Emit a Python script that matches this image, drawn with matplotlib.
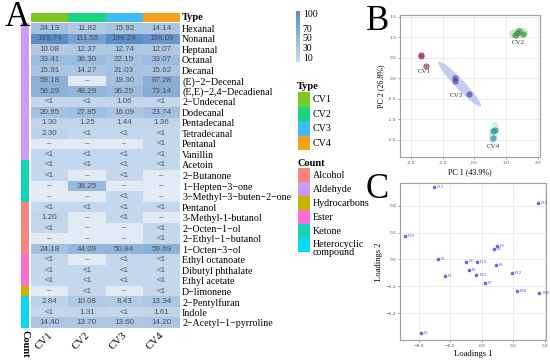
import numpy as np
import matplotlib
matplotlib.use("Agg")
import matplotlib.pyplot as plt
from matplotlib import colors as mcolors
from matplotlib.patches import Rectangle, Ellipse
from matplotlib.cm import ScalarMappable

SERIF = "Liberation Serif"
SANS = "Liberation Sans"

# heatmap data (A)
compounds = ["Hexanal", "Nonanal", "Heptanal", "Octanal", "Decanal",
             "(E)−2−Decenal", "(E,E)−2,4−Decadienal", "2−Undecenal",
             "Dodecanal", "Pentadecanal", "Tetradecanal", "Pentanal",
             "Vanillin", "Acetoin", "2−Butanone", "1−Hepten−3−one",
             "3−Methyl−3−buten−2−one", "Pentanol", "3-Methyl-1-butanol",
             "2−Octen−1−ol", "2−Ethyl−1−butanol", "1−Octen−3−ol",
             "Ethyl octanoate", "Dibutyl phthalate", "Ethyl acetate",
             "D−limonene", "2−Pentylfuran", "Indole", "2−Acetyl−1−pyrroline"]
classes = ["Aldehyde"] * 13 + ["Ketone"] * 4 + ["Alcohol"] * 5 + \
          ["Ester"] * 3 + ["Hydrocarbons"] + ["Heterocyclic compound"] * 3
cv1 = ["24.13", "199.74", "10.08", "33.41", "15.91", "59.18", "58.29", "<1",
       "20.95", "1.30", "2.30", "–", "<1", "<1", "<1", "–", "–", "<1", "1.20",
       "<1", "–", "24.18", "<1", "<1", "<1", "–", "2.84", "<1", "14.40"]
cv2 = ["11.82", "111.55", "12.37", "36.30", "14.27", "–", "48.29", "<1",
       "27.85", "1.25", "<1", "–", "<1", "<1", "–", "38.25", "–", "<1", "–",
       "–", "–", "44.09", "–", "<1", "<1", "<1", "10.08", "1.31", "13.70"]
cv3 = ["15.92", "199.24", "12.74", "22.19", "21.03", "19.30", "36.29", "1.06",
       "16.09", "1.44", "<1", "–", "<1", "<1", "<1", "–", "<1", "<1", "<1",
       "–", "–", "50.84", "<1", "<1", "<1", "–", "8.43", "<1", "13.60"]
cv4 = ["14.14", "158.09", "12.07", "33.07", "15.62", "67.28", "73.14", "<1",
       "23.74", "1.36", "<1", "<1", "<1", "<1", "–", "–", "–", "<1", "–",
       "<1", "<1", "59.69", "<1", "<1", "<1", "<1", "13.34", "1.61", "14.20"]
cultivars = ["CV1", "CV2", "CV3", "CV4"]
type_colors = ["#7DC723", "#17D67F", "#3CBDF6", "#F7A21C"]
count_names = ["Alcohol", "Aldehyde", "Hydrocarbons", "Ester", "Ketone",
               "Heterocyclic compound"]
count_colors = ["#F8867E", "#CB9BFB", "#C8B400", "#FA6FD0", "#14D6B4", "#08D8F4"]
cbar_ticks = [10, 30, 50, 70, 100]

# PCA scores (B)
pc_group = ["CV1", "CV1", "CV1", "CV2", "CV2", "CV2", "CV2",
            "CV3", "CV3", "CV3", "CV4", "CV4", "CV4"]
pc1 = [-1.69, -1.67, -1.52, 1.28, 1.34, 1.42, 1.55, -0.61, -0.61, -0.16, 0.60, 0.65, 0.58]
pc2 = [0.56, 0.53, 0.30, 1.06, 1.11, 1.14, 1.08, 0.015, -0.06, -0.38, -1.28, -1.26, -1.45]
group_colors = {"CV1": "#A33D5E", "CV2": "#3E8F45", "CV3": "#4753A6", "CV4": "#2B98A3"}
ellipse_fill = {"CV1": "#F2C6CF", "CV2": "#9FD69F", "CV3": "#A9B3EA", "CV4": "#9EDCDD"}
ellipse_alpha = {"CV1": 0.0, "CV2": 0.55, "CV3": 0.65, "CV4": 0.5}

# loadings (C)
load_names = ["F13", "F19", "F20", "F9", "F4", "F1", "F8", "F10", "F5",
              "F6", "F12", "F21", "F3", "F7", "F28", "F26", "F2"]
load1 = [-0.301, 0.355, -0.489, 0.097, 0.076, -0.276, -0.102, -0.032, 0.091,
         -0.080, 0.190, -0.034, -0.235, 0.021, 0.222, 0.366, -0.387]
load2 = [0.539, 0.424, 0.173, 0.104, 0.079, 0.005, -0.015, -0.020, -0.040,
         -0.077, -0.104, -0.114, -0.126, -0.178, -0.235, -0.247, -0.548]


def to_num(s):
    if s == "–":
        return np.nan
    if s == "<1":
        return 0.5
    return float(s)


W, H = 550, 362
fig = plt.figure(figsize=(W / 100, H / 100), dpi=100)


def px_axes(x0, y0, x1, y1):
    return fig.add_axes([x0 / W, 1 - y1 / H, (x1 - x0) / W, (y1 - y0) / H])


cmap = mcolors.LinearSegmentedColormap.from_list("bl", ["#C9DBEE", "#5A8EC8"])
cmap.set_bad("#E1EBF5")
norm = mcolors.PowerNorm(0.5, vmin=0, vmax=200)

labels = np.array([cv1, cv2, cv3, cv4]).T
values = np.vectorize(to_num)(labels)
nrow = len(compounds)

# ---- A: heatmap
ax = px_axes(31, 23, 180, 328)
ax.pcolormesh(np.ma.masked_invalid(values), cmap=cmap, norm=norm)
for i in range(nrow):
    for j in range(4):
        ax.text(j + 0.5, i + 0.5, labels[i, j], ha="center", va="center",
                fontsize=5.8, color="#505050", family=SANS)
ax.set_xlim(0, 4)
ax.set_ylim(nrow, 0)
ax.set_yticks(np.arange(nrow) + 0.5)
ax.set_yticklabels(compounds, family=SERIF, fontsize=7.2)
ax.yaxis.tick_right()
ax.set_xticks(np.arange(4) + 0.62)
ax.set_xticklabels(cultivars, family=SERIF, fontsize=7.8, rotation=45,
                   ha="right", va="top")
ax.tick_params(length=0, pad=1.5)
for s in ax.spines.values():
    s.set_visible(False)

tax = px_axes(31, 13, 180, 22)
tax.pcolormesh(np.arange(4).reshape(1, 4), cmap=mcolors.ListedColormap(type_colors))
tax.set_xticks([])
tax.set_yticks([])
for s in tax.spines.values():
    s.set_visible(False)
tax.text(1.01, 0.5, "Type", transform=tax.transAxes, family=SERIF, fontsize=7.5,
         fontweight="bold", va="center", ha="left")

cax_count = px_axes(21, 23, 29, 328)
cls_idx = np.array([count_names.index(c) for c in classes]).reshape(-1, 1)
cax_count.pcolormesh(cls_idx, cmap=mcolors.ListedColormap(count_colors),
                     vmin=-0.5, vmax=len(count_names) - 0.5)
cax_count.set_ylim(nrow, 0)
cax_count.set_xticks([])
cax_count.set_yticks([])
for s in cax_count.spines.values():
    s.set_visible(False)
cax_count.text(0.5, -0.006, "Count", transform=cax_count.transAxes, family=SERIF,
               fontsize=7.5, fontweight="bold", rotation=-90, ha="center", va="top")

fig.text(5 / W, 1 - 17 / H, "A", family=SERIF, fontsize=25, va="center", ha="left")

# colour bar
cb_ax = px_axes(296, 11, 300, 62)
cb = fig.colorbar(ScalarMappable(mcolors.Normalize(0, 105), cmap), cax=cb_ax,
                  ticks=cbar_ticks)
cb.outline.set_visible(False)
cb_ax.tick_params(length=0, pad=2, labelsize=7)
for t in cb_ax.get_yticklabels():
    t.set_family(SERIF)

# legends
lax = px_axes(290, 75, 385, 262)
lax.set_xlim(290, 385)
lax.set_ylim(262, 75)
lax.axis("off")
lax.text(297, 86, "Type", family=SERIF, fontsize=7.5, fontweight="bold", va="center")
for k, (nm, c) in enumerate(zip(cultivars, type_colors)):
    y0 = 92 + k * 14.5
    lax.add_patch(Rectangle((298, y0), 12, 14.5, color=c, lw=0))
    lax.text(313, y0 + 7.5, nm, family=SERIF, fontsize=7.2, va="center")
lax.text(297, 163, "Count", family=SERIF, fontsize=7.5, fontweight="bold", va="center")
for k, (nm, c) in enumerate(zip(count_names, count_colors)):
    y0 = 168 + k * 14
    lax.add_patch(Rectangle((298, y0), 12, 14, color=c, lw=0))
    txt = nm.replace(" ", "\n") if " " in nm else nm
    lax.text(313, y0 + 7.5 + (3 if "\n" in txt else 0), txt, family=SERIF,
             fontsize=7.2, va="center", linespacing=0.95)


def style_panel(a):
    a.grid(True, color="#E6E6E6", lw=0.5)
    a.set_axisbelow(True)
    for s in a.spines.values():
        s.set_color("#A0A0A0")
        s.set_linewidth(0.8)
    a.tick_params(labelsize=3.2, length=1.5, width=0.4, pad=1.2, colors="#555555")


# ---- B: PCA score plot
bx = px_axes(400, 15, 540, 157)
pc1 = np.array(pc1)
pc2 = np.array(pc2)
grp = np.array(pc_group)
label_off = {"CV1": (2, -6), "CV2": (0, -8), "CV3": (-3, -1.5), "CV4": (0, -9)}
for g in cultivars:
    m = grp == g
    x, y = pc1[m], pc2[m]
    cov = np.cov(x, y)
    vals, vecs = np.linalg.eigh(cov)
    ang = np.degrees(np.arctan2(vecs[1, 1], vecs[0, 1]))
    k = 2.6
    bx.add_patch(Ellipse((x.mean(), y.mean()), 2 * k * np.sqrt(vals[1]),
                         max(2 * k * np.sqrt(max(vals[0], 0)), 0.26), angle=ang,
                         facecolor=ellipse_fill[g], alpha=ellipse_alpha[g], lw=0))
    bx.scatter(x, y, s=13, facecolors=mcolors.to_rgba(group_colors[g], 0.2),
               edgecolors=group_colors[g], linewidths=0.7, zorder=3)
    bx.scatter(x, y, s=0.8, color=group_colors[g], zorder=4)
    dx, dy = label_off[g]
    bx.annotate(g, (x.mean(), y.min()), xytext=(dx * 0.72, dy * 0.72),
                textcoords="offset points", ha="center", va="center",
                family=SERIF, fontsize=5, color="#333333")
bx.set_xlim(-2.34, 2.07)
bx.set_ylim(-1.92, 1.54)
bx.set_xticks([-2, -1, 0, 1, 2])
bx.set_yticks([-1.5, -1.0, -0.5, 0.0, 0.5, 1.0, 1.5])
bx.xaxis.set_major_formatter(matplotlib.ticker.FormatStrFormatter("%.1f"))
bx.yaxis.set_major_formatter(matplotlib.ticker.FormatStrFormatter("%.1f"))
style_panel(bx)
bx.set_xlabel("PC 1 (43.9%)", family=SERIF, fontsize=5.8, labelpad=2.5)
bx.set_ylabel("PC 2 (26.8%)", family=SERIF, fontsize=5.8, labelpad=1.5)
fig.text(366 / W, 1 - 22 / H, "B", family=SERIF, fontsize=25, va="center", ha="left")

# ---- C: loadings
cx = px_axes(400, 183, 546, 340)
cx.scatter(load1, load2, s=2.5, color="#7B5CE0", zorder=3)
for nm, a, b in zip(load_names, load1, load2):
    cx.annotate(nm, (a, b), xytext=(2, 0), textcoords="offset points",
                fontsize=2.8, color="#6A55D0", va="center", ha="left")
cx.set_xlim(-0.519, 0.408)
cx.set_ylim(-0.60, 0.57)
cx.set_xticks([-0.4, -0.2, 0.0, 0.2, 0.4])
cx.set_yticks([-0.4, -0.2, 0.0, 0.2, 0.4])
style_panel(cx)
cx.set_xlabel("Loadings 1", family=SERIF, fontsize=6.2, labelpad=1.5)
cx.set_ylabel("Loadings 2", family=SERIF, fontsize=6.2, labelpad=2)
fig.text(366 / W, 1 - 190 / H, "C", family=SERIF, fontsize=25, va="center", ha="left")

fig.savefig("out.png", dpi=100)
